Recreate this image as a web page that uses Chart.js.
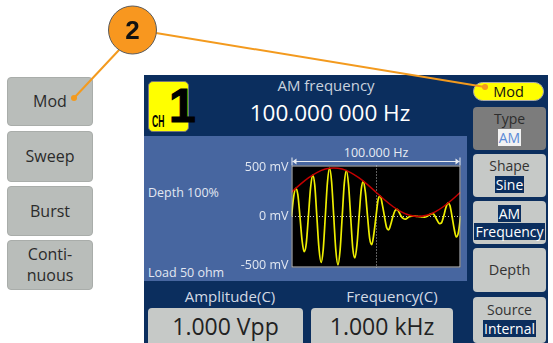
<!DOCTYPE html>
<html><head><meta charset="utf-8">
<script src="https://cdn.jsdelivr.net/npm/chart.js@4/dist/chart.umd.min.js"></script>
<style>
html,body{margin:0;padding:0;}
body{width:553px;height:343px;background:#fff;position:relative;overflow:hidden;font-family:"Open Sans",sans-serif;}
.abs{position:absolute;}
.lbtn{position:absolute;left:7px;width:86px;background:#b9bdba;border:1px solid #a9adaa;border-radius:4px;box-sizing:border-box;color:#2b2b2b;font-size:16px;text-align:center;display:flex;flex-direction:column;justify-content:center;line-height:21px;}
.screen{position:absolute;left:144px;top:75px;width:404px;height:268px;background:#0b2e5e;}
.mid{position:absolute;left:144px;top:136px;width:323px;height:145px;background:#4766a0;}
.sbtn{position:absolute;left:473px;width:73px;background:#c6c9c7;border-radius:4px;color:#333;font-size:14px;text-align:center;line-height:17px;}
.hl{display:inline-block;background:#0b2e5e;color:#fff;padding:0 1px;}
.txt{position:absolute;white-space:nowrap;color:#e2e8f2;}
.vbox{position:absolute;top:308px;height:40px;background:#c6c9c7;border-radius:4px;color:#222;font-size:23px;text-align:center;line-height:36px;}
</style></head>
<body>
<div class="lbtn" style="top:77px;height:49px;">Mod</div>
<div class="lbtn" style="top:131px;height:51px;">Sweep</div>
<div class="lbtn" style="top:186px;height:50px;">Burst</div>
<div class="lbtn" style="top:240px;height:50px;">Conti-<br>nuous</div>

<div class="screen"></div>
<div class="mid"></div>

<div class="abs" style="left:148px;top:81px;width:41px;height:51px;background:#ffff00;border:1px solid #777;border-radius:5px;box-sizing:border-box;">
  <div class="abs" style="left:3px;top:30px;font-family:'Liberation Sans',Arial,sans-serif;font-weight:bold;font-size:12px;line-height:12px;color:#000;transform:scale(0.72,1.45);transform-origin:0 0;">CH</div>
  <div class="abs" style="left:20px;top:0px;font-family:'Liberation Sans',Arial,sans-serif;font-weight:bold;font-size:48px;line-height:48px;letter-spacing:-8px;color:#000;-webkit-text-stroke:1.2px #000;">1</div>
</div>
<div class="txt" style="left:226px;width:200px;top:75px;text-align:center;font-size:15px;line-height:20px;color:#c9d2de;">AM frequency</div>
<div class="txt" style="left:230px;width:200px;top:98px;text-align:center;font-size:22.5px;line-height:30px;color:#fff;">100.000 000 Hz</div>

<div class="txt" style="left:148px;top:184px;font-size:12.5px;line-height:18px;">Depth 100%</div>
<div class="txt" style="left:148px;top:264px;font-size:12.5px;line-height:18px;">Load 50 ohm</div>
<div class="txt" style="left:292px;width:168px;top:145px;text-align:center;font-size:12.5px;line-height:16px;color:#e6ebf3;">100.000 Hz</div>

<div class="abs" style="left:232px;top:150px;width:232px;height:128px;"><canvas id="c" width="232" height="128"></canvas></div>

<div class="abs" style="left:473px;top:82px;width:71px;height:19px;background:#ffff00;border-radius:10px;border:1px solid #aaa;box-sizing:border-box;text-align:center;font-size:14.5px;line-height:17px;color:#111;">Mod</div>
<div class="sbtn" style="top:107px;height:43px;background:#7c7c7c;color:#2d2d2d;"><div style="margin-top:3px;">Type</div><span style="display:inline-block;background:#f2f2f2;color:#5b8ad6;padding:0 1px;margin-top:2px;">AM</span></div>
<div class="sbtn" style="top:154px;height:43px;"><div style="margin-top:3px;">Shape</div><span class="hl" style="margin-top:2px;">Sine</span></div>
<div class="sbtn" style="top:201px;height:43px;"><div style="margin-top:4px;"><span class="hl">AM</span></div><span class="hl" style="margin-top:1px;">Frequency</span></div>
<div class="sbtn" style="top:248px;height:44px;line-height:44px;font-size:14.5px;">Depth</div>
<div class="sbtn" style="top:297px;height:46px;"><div style="margin-top:4px;">Source</div><span class="hl" style="margin-top:2px;">Internal</span></div>

<div class="txt" style="left:150px;width:160px;top:286px;text-align:center;font-size:15px;line-height:20px;color:#d2d9e4;">Amplitude(C)</div>
<div class="txt" style="left:312px;width:160px;top:286px;text-align:center;font-size:15px;line-height:20px;color:#d2d9e4;">Frequency(C)</div>
<div class="vbox" style="left:148px;width:155px;">1.000 Vpp</div>
<div class="vbox" style="left:311px;width:142px;">1.000 kHz</div>

<svg class="abs" style="left:0;top:0;" width="553" height="343">
  <line x1="119" y1="50" x2="74" y2="98" stroke="#f39a1e" stroke-width="2"/>
  <line x1="156" y1="33" x2="485" y2="87" stroke="#f39a1e" stroke-width="2"/>
  <circle cx="74" cy="98" r="3" fill="#f39a1e"/>
  <circle cx="485" cy="87" r="3" fill="#f39a1e"/>
  <circle cx="132.5" cy="30" r="24" fill="#f8971f" stroke="#5a5a5a" stroke-width="1"/>
  <text x="132.5" y="39" text-anchor="middle" font-family="Liberation Sans, Arial, sans-serif" font-weight="bold" font-size="26" fill="#111">2</text>
</svg>

<script>
// Modulation envelope (red), time in ms, value in mV
const envTimes = [0,0.5,1,1.5,2,2.5,3,3.5,4,4.5,5,5.5,6,6.5,7,7.5,8,8.5,9,9.5,10];
const envMv    = [250,328,397,452,488,500,488,452,397,328,250,172,103,48,12,0,12,48,103,172,250];
// AM output (yellow), time in ms, value in mV (read every 1/8 carrier cycle)
const carrierTimes = [
  0,0.125,0.25,0.375,0.5,0.625,0.75,0.875,
  1,1.125,1.25,1.375,1.5,1.625,1.75,1.875,
  2,2.125,2.25,2.375,2.5,2.625,2.75,2.875,
  3,3.125,3.25,3.375,3.5,3.625,3.75,3.875,
  4,4.125,4.25,4.375,4.5,4.625,4.75,4.875,
  5,5.125,5.25,5.375,5.5,5.625,5.75,5.875,
  6,6.125,6.25,6.375,6.5,6.625,6.75,6.875,
  7,7.125,7.25,7.375,7.5,7.625,7.75,7.875,
  8,8.125,8.25,8.375,8.5,8.625,8.75,8.875,
  9,9.125,9.25,9.375,9.5,9.625,9.75,9.875,10];
const carrierMv = [
  0,200,290,225,0,-245,-363,-276,
  0,290,427,325,0,-327,-473,-343,
  0,347,497,353,0,-353,-497,-347,
  0,343,473,327,0,-325,-427,-290,
  0,276,363,245,0,-225,-289,-177,
  0,172,211,123,0,-112,-137,-80,
  0,60,73,41,0,-22,-27,-12,
  0,4,5,2,0,-2,-5,-6,
  0,12,27,30,0,-40,-73,-65,
  0,84,137,113,0,-126,-211,-165,0];
// Axis ticks
const yTicks = [-500,0,500];
const yTickLabels = {"-500":"-500 mV","0":"0 mV","500":"500 mV"};
const xGridTicks = [5];

const toXY = (xs, ys) => xs.map((x,i)=>({x:x,y:ys[i]}));

const framePlugin = {
  id:'frame',
  beforeDraw(chart){
    const {ctx, chartArea:a} = chart;
    ctx.save();
    ctx.fillStyle = '#000';
    ctx.fillRect(a.left, a.top, a.right-a.left, a.bottom-a.top);
    ctx.restore();
  },
  afterDraw(chart){
    const {ctx, chartArea:a} = chart;
    ctx.save();
    ctx.strokeStyle = '#c4c8d0';
    ctx.lineWidth = 1;
    ctx.strokeRect(a.left+0.5, a.top+0.5, a.right-a.left-1, a.bottom-a.top-1);
    // span bracket
    const y = Math.round(a.top - 5) + 0.5;
    ctx.strokeStyle = '#e8ebf0';
    ctx.fillStyle = '#e8ebf0';
    ctx.beginPath();
    ctx.moveTo(a.left+1, y); ctx.lineTo(a.right-1, y);
    ctx.moveTo(a.left+0.5, y-4); ctx.lineTo(a.left+0.5, y+4);
    ctx.moveTo(a.right-0.5, y-4); ctx.lineTo(a.right-0.5, y+4);
    ctx.stroke();
    ctx.beginPath();
    ctx.moveTo(a.left+1, y); ctx.lineTo(a.left+5, y-3); ctx.lineTo(a.left+5, y+3); ctx.closePath();
    ctx.moveTo(a.right-1, y); ctx.lineTo(a.right-5, y-3); ctx.lineTo(a.right-5, y+3); ctx.closePath();
    ctx.fill();
    ctx.restore();
  }
};

new Chart(document.getElementById('c'), {
  type:'line',
  data:{
    datasets:[
      {data:toXY(envTimes, envMv), borderColor:'#c40000', borderWidth:1.5, pointRadius:0, cubicInterpolationMode:'monotone', fill:false},
      {data:toXY(carrierTimes, carrierMv), borderColor:'#eeee00', borderWidth:1.7, pointRadius:0, cubicInterpolationMode:'monotone', fill:false}
    ]
  },
  plugins:[framePlugin],
  options:{
    responsive:false,
    devicePixelRatio:1,
    animation:false,
    events:[],
    layout:{padding:{top:15.5, bottom:5.5, right:3.5, left:0}},
    plugins:{legend:{display:false}, tooltip:{enabled:false}, title:{display:false}},
    scales:{
      x:{
        type:'linear', min:0, max:10,
        afterBuildTicks(s){ s.ticks = xGridTicks.map(v=>({value:v})); },
        afterFit(s){ s.height = 0; },
        ticks:{display:false},
        border:{display:false, dash:[1,2]},
        grid:{color:'#bdbdbd', lineWidth:1, drawTicks:false, tickLength:0},
        display:true
      },
      y:{
        type:'linear', min:-525, max:525,
        afterBuildTicks(s){ s.ticks = yTicks.map(v=>({value:v})); },
        afterFit(s){ s.width = 59.5; },
        ticks:{
          color:'#e2e8f2', padding:3, autoSkip:false,
          font:{family:'"Open Sans", sans-serif', size:12.5},
          callback:(v)=>yTickLabels[String(v)]
        },
        border:{display:false, dash:[1,2]},
        grid:{
          color:(c)=> c.tick && c.tick.value===0 ? '#bdbdbd' : 'rgba(0,0,0,0)',
          drawTicks:false, tickLength:0
        }
      }
    }
  }
});
</script>
</body></html>
